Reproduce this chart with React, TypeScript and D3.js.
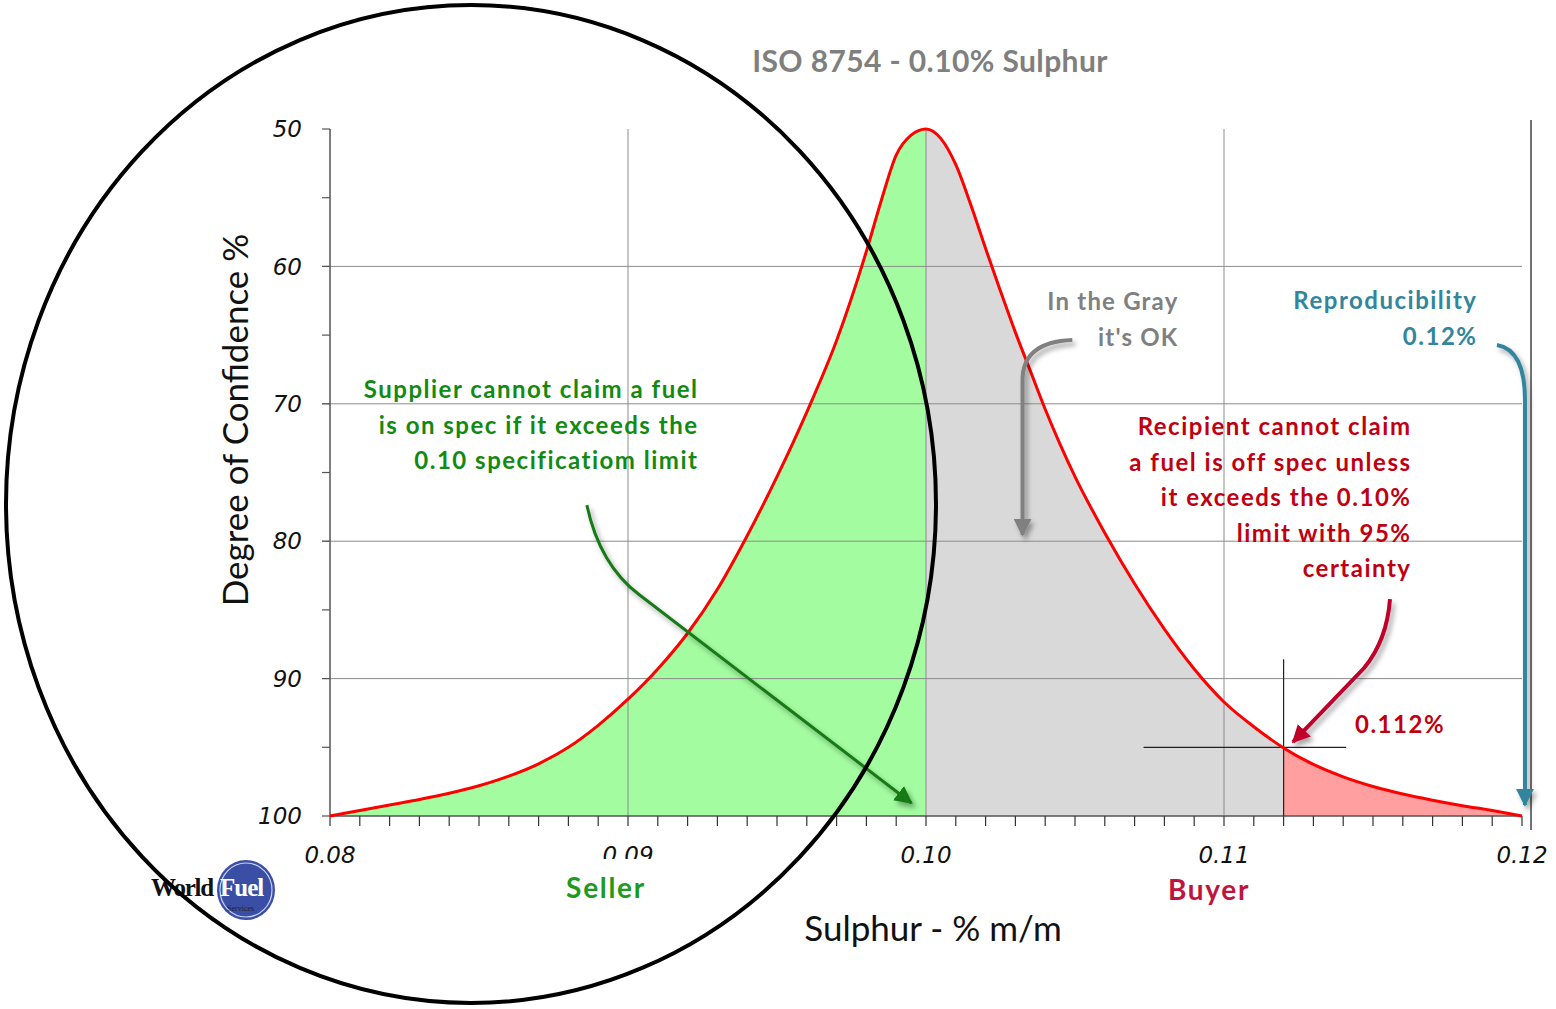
import React from "react";
import * as d3 from "d3";

// ---------- data ----------
const sulphur = [
  0.080, 0.081, 0.082, 0.083, 0.084, 0.085, 0.086, 0.087, 0.088, 0.089,
  0.090, 0.091, 0.092, 0.093, 0.094, 0.095, 0.096, 0.097, 0.098, 0.0985,
  0.099, 0.0995, 0.100, 0.1005, 0.101, 0.1015, 0.102, 0.1025, 0.103, 0.1035,
  0.104, 0.1045, 0.105, 0.106, 0.107, 0.108, 0.109, 0.110, 0.111, 0.112, 0.113,
  0.114, 0.115, 0.116, 0.117, 0.118, 0.119, 0.120,
];
const confidence = [
  100.0, 99.6, 99.2, 98.8, 98.35, 97.8, 97.1, 96.2, 95.0, 93.4,
  91.5, 89.3, 86.7, 83.5, 79.6, 75.3, 70.6, 65.4, 58.9, 55.2,
  51.9, 50.45, 50.0, 50.7, 52.6, 55.5, 58.7, 61.8, 64.8, 67.6,
  70.4, 72.95, 75.3, 79.4, 83.1, 86.4, 89.3, 91.7, 93.5, 95.05, 96.25,
  97.15, 97.85, 98.4, 98.85, 99.25, 99.6, 100.0,
];
const xTicks = [0.08, 0.09, 0.1, 0.11, 0.12];
const xTickLabels = ["0.08", "0.09", "0.10", "0.11", "0.12"];
const yTicks = [50, 60, 70, 80, 90, 100];
const yTickLabels = ["50", "60", "70", "80", "90", "100"];
const yMinorTicks = [55, 65, 75, 85, 95];
const gridXValues = [0.09, 0.1, 0.11];
const gridYValues = [60, 70, 80, 90];
const specLimit = 0.1;
const certainLimit = 0.112;
const certainConfidence = 95;

const titleText = "ISO 8754 - 0.10% Sulphur";
const yTitle = "Degree of Confidence %";
const xTitle = "Sulphur - % m/m";
const supplierLines = ["Supplier cannot claim a fuel", "is on spec if it exceeds the", "0.10 specificatiom limit"];
const grayLines = ["In the Gray", "it's OK"];
const reproLines = ["Reproducibility", "0.12%"];
const recipientLines = ["Recipient cannot claim", "a fuel is off spec unless", "it exceeds the 0.10%", "limit with 95%", "certainty"];

// arrows in data units [x, y]
const greenArrow = [[0.08862, 77.37], [0.08905, 81.73], [0.09039, 83.92], [0.09951, 99.05]];
const grayArrow = [[0.10491, 65.36], [0.10324, 65.5], [0.10324, 68.27], [0.10324, 79.55]];
const redArrow = [[0.11557, 84.21], [0.11547, 87.19], [0.1147, 89.23], [0.11232, 94.61]];
const tealArrow = [[0.11916, 65.72], [0.1201, 66.08], [0.1201, 69.72], [0.1201, 99.2]];

const FONT_AN = "Lato, 'Open Sans', sans-serif";
const FONT_AX = "'DejaVu Sans', Verdana, sans-serif";

export default function App() {
  const x = d3.scaleLinear().domain([0.08, 0.12]).range([330, 1522]);
  const y = d3.scaleLinear().domain([50, 100]).range([129, 816]);
  const pts = sulphur.map((s, i) => [s, confidence[i]] as [number, number]);
  const line = d3.line<[number, number]>().x((d) => x(d[0])).y((d) => y(d[1])).curve(d3.curveMonotoneX);
  const area = d3.area<[number, number]>().x((d) => x(d[0])).y0(y(100)).y1((d) => y(d[1])).curve(d3.curveMonotoneX);
  const minorX = d3.range(0, 41).map((i) => 0.08 + i * 0.001);

  const arrowPath = (a: number[][]) => {
    const p = a.map((d) => [x(d[0]), y(d[1])]);
    return `M${p[0][0]},${p[0][1]} Q${p[1][0]},${p[1][1]} ${p[2][0]},${p[2][1]} L${p[3][0]},${p[3][1]}`;
  };

  const x0 = x(0.08), x1 = x(0.12), yb = y(100);

  const marker = (id: string, color: string) => (
    <marker id={id} viewBox="0 0 10 10" refX="9" refY="5" markerUnits="userSpaceOnUse" markerWidth="18" markerHeight="18" orient="auto">
      <path d="M0,0 L10,5 L0,10 z" fill={color} />
    </marker>
  );

  const an = { fontFamily: FONT_AN, fontWeight: "bold" as const, fontSize: 24, letterSpacing: 1.5 };

  return (
    <svg width={1556} height={1009} style={{ position: "absolute", left: 0, top: 0, background: "#fff" }}>
      <defs>
        <clipPath id="cGreen"><rect x={x0} y={0} width={x(specLimit) - x0} height={1009} /></clipPath>
        <clipPath id="cGray"><rect x={x(specLimit)} y={0} width={x(certainLimit) - x(specLimit)} height={1009} /></clipPath>
        <clipPath id="cPink"><rect x={x(certainLimit)} y={0} width={x1 - x(certainLimit)} height={1009} /></clipPath>
        <filter id="shadow" x="-20%" y="-20%" width="140%" height="140%">
          <feDropShadow dx="3" dy="4" stdDeviation="2.5" floodColor="#000" floodOpacity="0.35" />
        </filter>
        {marker("mGreen", "#177a17")}
        {marker("mGray", "#808080")}
        {marker("mRed", "#c0002a")}
        {marker("mTeal", "#31859c")}
      </defs>
      <rect x={0} y={0} width={1556} height={1009} fill="#fff" />

      {/* fills */}
      <path d={area(pts) || ""} fill="#a3fca0" clipPath="url(#cGreen)" />
      <path d={area(pts) || ""} fill="#d9d9d9" clipPath="url(#cGray)" />
      <path d={area(pts) || ""} fill="#ff9f9f" clipPath="url(#cPink)" />

      {/* grid */}
      {gridYValues.map((v) => (
        <line key={"gy" + v} x1={x0 - 8} x2={x1} y1={y(v)} y2={y(v)} stroke="#8c8c8c" strokeWidth={1} />
      ))}
      {gridXValues.map((v) => (
        <line key={"gx" + v} x1={x(v)} x2={x(v)} y1={y(50)} y2={yb} stroke="#8c8c8c" strokeWidth={1} />
      ))}

      {/* axes */}
      <line x1={x0} x2={x0} y1={y(50)} y2={yb} stroke="#555" strokeWidth={1.5} />
      <line x1={x0} x2={x1} y1={yb} y2={yb} stroke="#555" strokeWidth={1.5} />
      <line x1={x1 + 9} x2={x1 + 9} y1={120} y2={830} stroke="#444" strokeWidth={1.5} />
      {yTicks.map((v) => (
        <line key={"yt" + v} x1={x0 - 8} x2={x0} y1={y(v)} y2={y(v)} stroke="#555" strokeWidth={1.2} />
      ))}
      {yMinorTicks.map((v) => (
        <line key={"ym" + v} x1={x0 - 8} x2={x0} y1={y(v)} y2={y(v)} stroke="#555" strokeWidth={1.2} />
      ))}
      {minorX.map((v, i) => (
        <line key={"xm" + i} x1={x(v)} x2={x(v)} y1={yb} y2={yb + 10} stroke="#333" strokeWidth={1.2} />
      ))}
      {yTicks.map((v, i) => (
        <text key={"yl" + v} x={302} y={y(v)} dy="0.36em" textAnchor="end" fontFamily={FONT_AX} fontStyle="italic" fontSize={23} fill="#111">
          {yTickLabels[i]}
        </text>
      ))}
      {xTicks.map((v, i) => (
        <text key={"xl" + v} x={x(v)} y={863} textAnchor="middle" fontFamily={FONT_AX} fontStyle="italic" fontSize={23} fill="#111">
          {xTickLabels[i]}
        </text>
      ))}

      {/* crosshair at 95% */}
      <line x1={x(0.1073)} x2={x(0.1141)} y1={y(certainConfidence)} y2={y(certainConfidence)} stroke="#222" strokeWidth={1.2} />
      <line x1={x(certainLimit)} x2={x(certainLimit)} y1={y(88.6)} y2={yb} stroke="#222" strokeWidth={1.2} />

      {/* curve */}
      <path d={line(pts) || ""} fill="none" stroke="#ff0000" strokeWidth={3} />

      {/* title & axis titles */}
      <text x={930} y={72} textAnchor="middle" fontFamily={FONT_AN} fontWeight="bold" fontSize={30} letterSpacing={0.4} fill="#7f7f7f">{titleText}</text>
      <text transform="translate(248,420) rotate(-90)" textAnchor="middle" fontFamily={FONT_AN} fontSize={35} fill="#111">{yTitle}</text>
      <text x={933} y={941} textAnchor="middle" fontFamily={FONT_AN} fontSize={35} fill="#111">{xTitle}</text>

      {/* seller / buyer */}
      <rect x={575} y={859} width={105} height={45} fill="#fff" />
      <text x={606} y={898} textAnchor="middle" fontFamily={FONT_AN} fontWeight="bold" fontSize={28} letterSpacing={1.7} fill="#1e9a1e">Seller</text>
      <text x={1209} y={900} textAnchor="middle" fontFamily={FONT_AN} fontWeight="bold" fontSize={28} letterSpacing={1.7} fill="#c0143c">Buyer</text>

      {/* annotations */}
      {supplierLines.map((t, i) => (
        <text key={"s" + i} x={698.5} y={398 + i * 35.5} textAnchor="end" {...an} fill="#128a12">{t}</text>
      ))}
      {grayLines.map((t, i) => (
        <text key={"g" + i} x={1178.5} y={310 + i * 35.5} textAnchor="end" {...an} letterSpacing={1.2} fill="#808080">{t}</text>
      ))}
      {reproLines.map((t, i) => (
        <text key={"r" + i} x={1477.5} y={309 + i * 35.5} textAnchor="end" {...an} fill="#31859c">{t}</text>
      ))}
      {recipientLines.map((t, i) => (
        <text key={"c" + i} x={1411.5} y={435 + i * 35.5} textAnchor="end" {...an} fill="#c00010">{t}</text>
      ))}
      <text x={1355} y={733} {...an} fill="#c00010">0.112%</text>

      {/* arrows */}
      <g filter="url(#shadow)">
        <path d={arrowPath(greenArrow)} fill="none" stroke="#177a17" strokeWidth={3} markerEnd="url(#mGreen)" />
        <path d={arrowPath(grayArrow)} fill="none" stroke="#808080" strokeWidth={4} markerEnd="url(#mGray)" />
        <path d={arrowPath(redArrow)} fill="none" stroke="#c0002a" strokeWidth={4} markerEnd="url(#mRed)" />
        <path d={arrowPath(tealArrow)} fill="none" stroke="#31859c" strokeWidth={4} markerEnd="url(#mTeal)" />
      </g>

      {/* logo */}
      <g>
        <ellipse cx={246} cy={890} rx={29} ry={30} fill="#3b4ea6" />
        <ellipse cx={246} cy={890} rx={26} ry={27} fill="none" stroke="#c9d2f0" strokeWidth={1.2} />
        <text x={151} y={896} fontFamily="'Liberation Serif', serif" fontWeight="bold" fontSize={25} letterSpacing={-1.2} fill="#111">World</text>
        <text x={220} y={896} fontFamily="'Liberation Serif', serif" fontWeight="bold" fontSize={25} letterSpacing={-1} fill="#fff">Fuel</text>
        <text x={227} y={911} fontFamily="'Liberation Serif', serif" fontSize={8} fill="#222">Services</text>
      </g>

      {/* big ellipse */}
      <ellipse cx={471} cy={504} rx={465} ry={499} fill="none" stroke="#000" strokeWidth={4} />
    </svg>
  );
}
